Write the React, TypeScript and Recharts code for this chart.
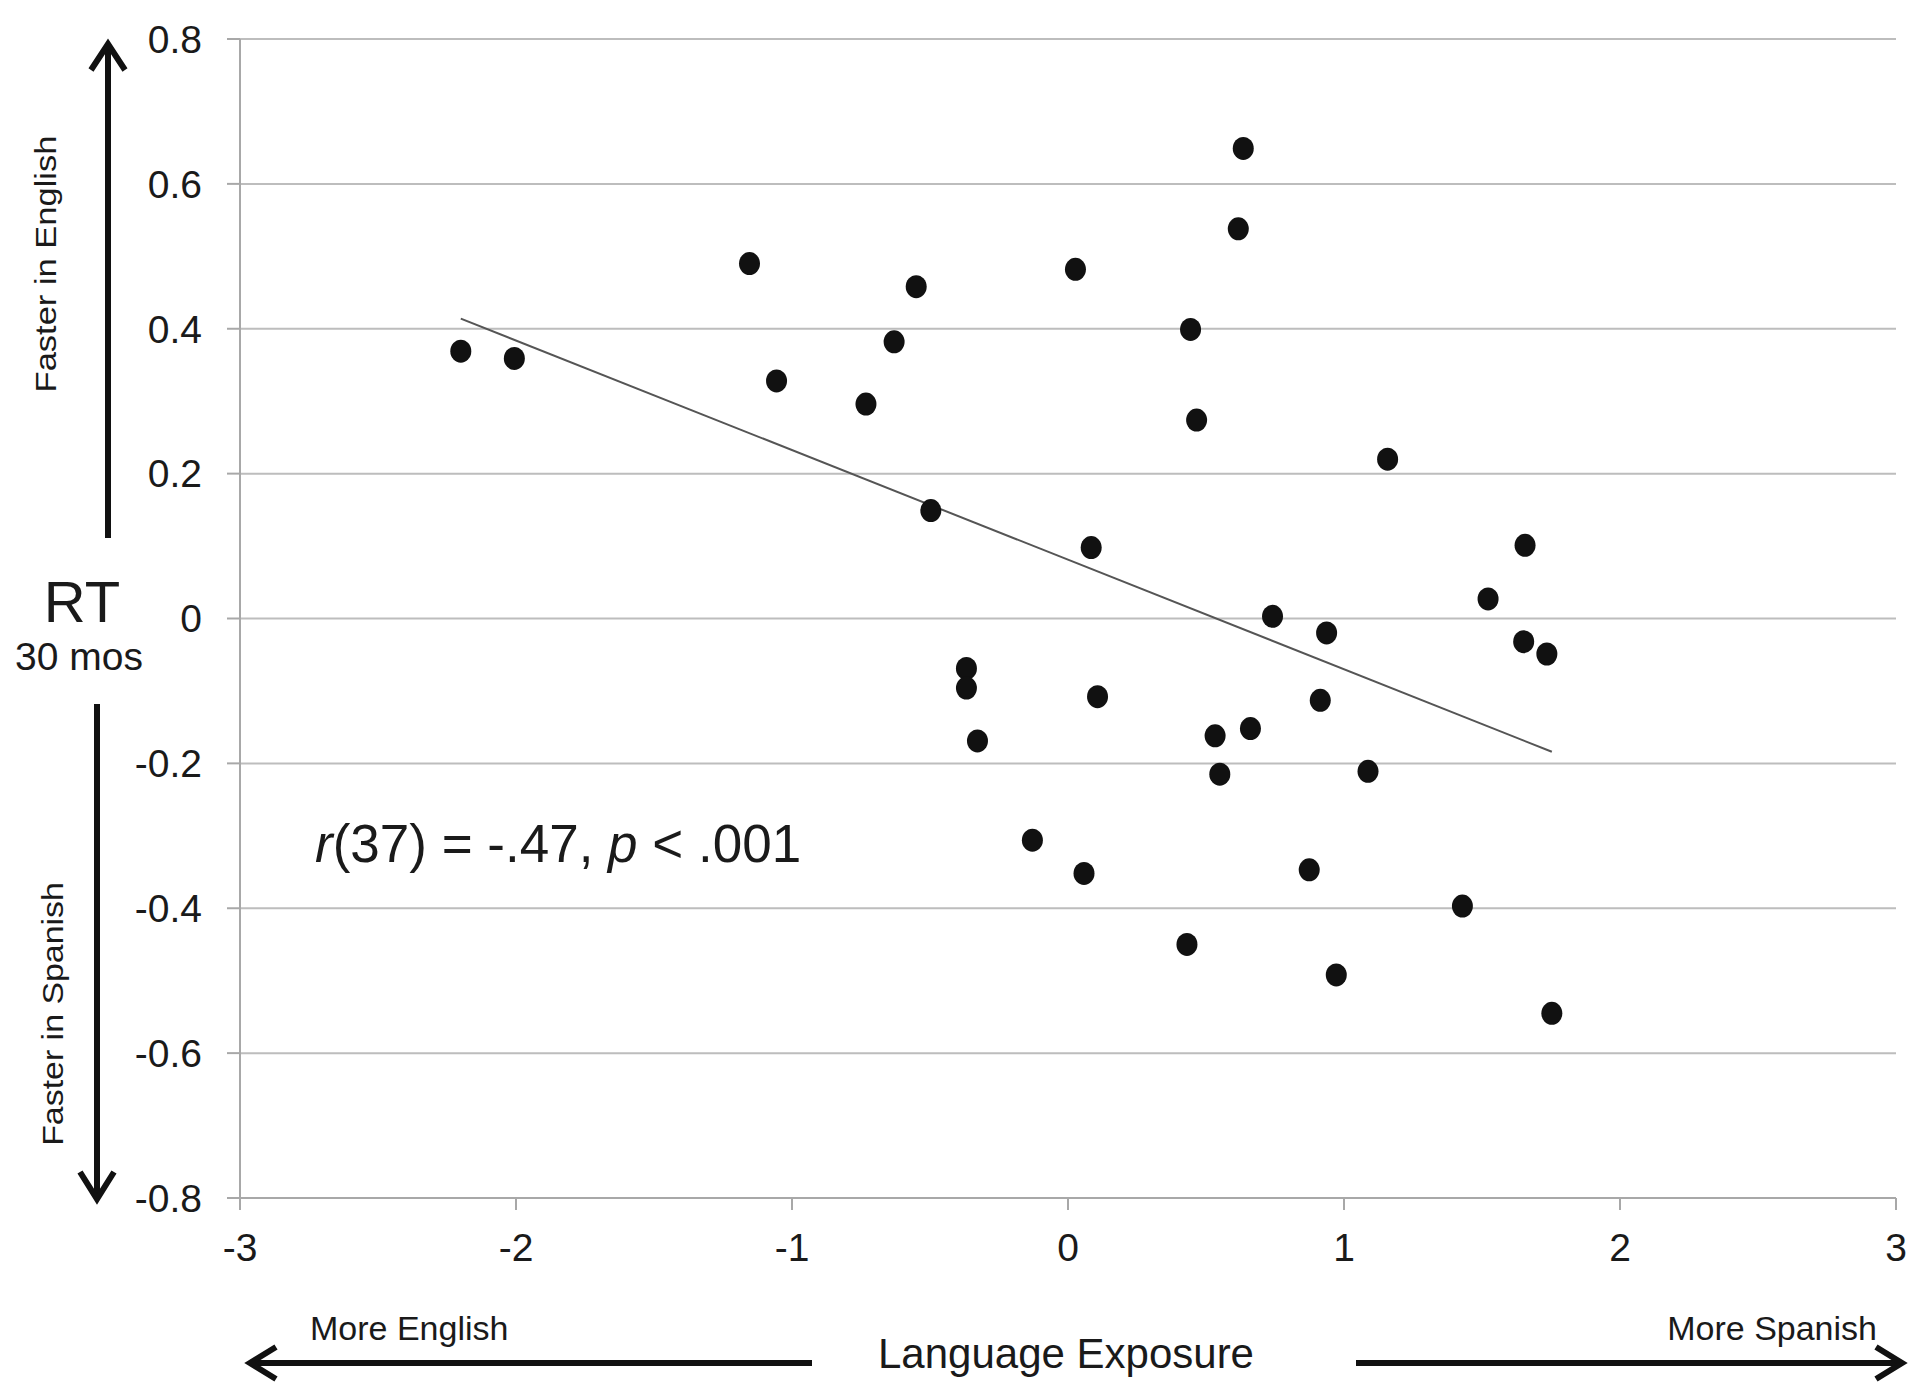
import React from 'react'
import {
  ScatterChart,
  Scatter,
  XAxis,
  YAxis,
  CartesianGrid,
  ReferenceLine,
} from 'recharts'

// language exposure score (x) and RT difference at 30 months (y)
const exposure = [
  -2.2, -2.006, -1.154, -1.056, -0.732, -0.63, -0.55, -0.497, -0.368, -0.368,
  -0.328, -0.129, 0.027, 0.058, 0.084, 0.107, 0.431, 0.444, 0.466, 0.533,
  0.55, 0.617, 0.635, 0.661, 0.741, 0.874, 0.914, 0.937, 0.972, 1.087,
  1.158, 1.429, 1.522, 1.651, 1.656, 1.735, 1.753,
]
const rt = [
  0.369, 0.359, 0.49, 0.328, 0.296, 0.382, 0.458, 0.149, -0.069, -0.096,
  -0.169, -0.306, 0.482, -0.352, 0.098, -0.108, -0.45, 0.399, 0.274, -0.162,
  -0.215, 0.538, 0.649, -0.152, 0.003, -0.347, -0.113, -0.02, -0.492, -0.211,
  0.22, -0.397, 0.027, -0.032, 0.101, -0.049, -0.545,
]

const trendX = [-2.2, 1.753]
const trendY = [0.414, -0.184]

const xTicks = [-3, -2, -1, 0, 1, 2, 3]
const yTicks = [-0.8, -0.6, -0.4, -0.2, 0, 0.2, 0.4, 0.6, 0.8]

const points = exposure.map((x, i) => ({ x, y: rt[i] }))

const FONT = '"Liberation Sans", Arial, sans-serif'
const INK = '#1a1a1a'

const Dot = (props: any) => (
  <ellipse cx={props.cx} cy={props.cy} rx={10.5} ry={11.5} fill="#111" />
)

export default function App() {
  return (
    <div style={{ position: 'absolute', left: 0, top: 0, width: 1920, height: 1392, background: '#fff' }}>
      <ScatterChart
        width={1920}
        height={1392}
        margin={{ top: 39, right: 24, bottom: 134, left: 120 }}
      >
        <CartesianGrid vertical={false} stroke="#bdbdbd" strokeWidth={2} />
        <XAxis
          type="number"
          dataKey="x"
          domain={[-3, 3]}
          ticks={xTicks}
          height={60}
          stroke="#a8a8a8"
          strokeWidth={2}
          tickSize={12}
          tickMargin={23}
          tick={{ fontSize: 39, fill: INK, fontFamily: FONT }}
        />
        <YAxis
          type="number"
          dataKey="y"
          domain={[-0.8, 0.8]}
          ticks={yTicks}
          width={120}
          stroke="#a8a8a8"
          strokeWidth={2}
          tickSize={13}
          tickMargin={25}
          tick={{ fontSize: 39, fill: INK, fontFamily: FONT }}
          tickFormatter={(v: number) => String(Math.round(v * 10) / 10)}
        />
        <ReferenceLine
          segment={[
            { x: trendX[0], y: trendY[0] },
            { x: trendX[1], y: trendY[1] },
          ]}
          stroke="#555"
          strokeWidth={2}
        />
        <Scatter data={points} shape={Dot} isAnimationActive={false} />
      </ScatterChart>

      <svg
        width={1920}
        height={1392}
        style={{ position: 'absolute', left: 0, top: 0, pointerEvents: 'none' }}
        fontFamily={FONT}
        fill={INK}
      >
        {/* vertical arrows */}
        <g stroke="#111" strokeWidth={6} fill="none" strokeLinejoin="miter">
          <line x1={108} y1={538} x2={108} y2={46} />
          <polyline points="91,70 108,44 125,70" />
          <line x1={97} y1={704} x2={97} y2={1196} />
          <polyline points="80,1172 97,1199 114,1172" />
        </g>
        {/* horizontal arrows */}
        <g stroke="#111" strokeWidth={6} fill="none" strokeLinejoin="miter">
          <line x1={252} y1={1363} x2={812} y2={1363} />
          <polyline points="276,1347 250,1363 276,1379" />
          <line x1={1356} y1={1363} x2={1898} y2={1363} />
          <polyline points="1876,1347 1902,1363 1876,1379" />
        </g>

        <text
          transform="translate(56,264) rotate(-90) scale(1.15,1)"
          textAnchor="middle"
          fontSize={30}
        >
          Faster in English
        </text>
        <text
          transform="translate(63,1014) rotate(-90) scale(1.13,1)"
          textAnchor="middle"
          fontSize={30}
        >
          Faster in Spanish
        </text>

        <text x={82} y={622} textAnchor="middle" fontSize={58}>
          RT
        </text>
        <text x={79} y={670} textAnchor="middle" fontSize={39}>
          30 mos
        </text>

        <text x={315} y={862} fontSize={53}>
          <tspan fontStyle="italic">r</tspan>
          <tspan>(37) = -.47, </tspan>
          <tspan fontStyle="italic">p</tspan>
          <tspan> &lt; .001</tspan>
        </text>

        <text x={310} y={1340} fontSize={34}>
          More English
        </text>
        <text x={1877} y={1340} textAnchor="end" fontSize={34}>
          More Spanish
        </text>
        <text x={1066} y={1368} textAnchor="middle" fontSize={42}>
          Language Exposure
        </text>
      </svg>
    </div>
  )
}
